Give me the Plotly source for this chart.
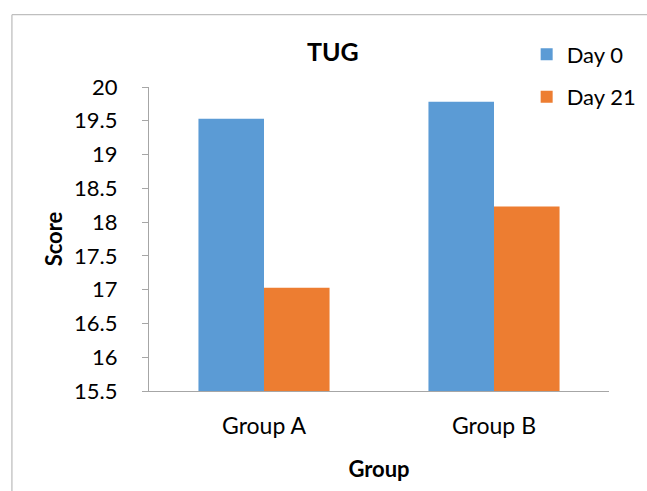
import plotly.graph_objects as go

# Timed Up and Go (TUG) scores per group, before and after the programme
groups = ["Group A", "Group B"]
day0_scores = [19.53, 19.78]
day21_scores = [17.03, 18.23]

y_ticks = [15.5, 16, 16.5, 17, 17.5, 18, 18.5, 19, 19.5, 20]
y_tick_labels = ["15.5", "16", "16.5", "17", "17.5", "18", "18.5", "19", "19.5", "20"]

FONT = "Lato, 'Open Sans', sans-serif"
BLUE = "#5B9BD5"
ORANGE = "#ED7D31"
AXIS_GREY = "#A6A6A6"
BORDER_GREY = "#BFBFBF"

fig = go.Figure()
fig.add_trace(go.Bar(name="Day 0", x=groups, y=day0_scores,
                     marker=dict(color=BLUE, line=dict(width=0)),
                     legendgroup="d0"))
fig.add_trace(go.Bar(name="Day 21", x=groups, y=day21_scores,
                     marker=dict(color=ORANGE, line=dict(width=0)),
                     legendgroup="d21"))

fig.update_layout(
    width=647, height=491,
    margin=dict(l=149, r=38, t=87, b=100, autoexpand=False),
    paper_bgcolor="white", plot_bgcolor="white",
    font=dict(family=FONT, size=22, color="#000000"),
    barmode="group", bargap=0.43, bargroupgap=0,
    showlegend=True,
    legend=dict(xref="container", yref="container",
                x=0.814, xanchor="left", y=0.932, yanchor="top",
                traceorder="grouped", tracegroupgap=11,
                font=dict(size=22), bgcolor="rgba(0,0,0,0)",
                itemwidth=30),
)

fig.update_xaxes(
    showline=True, linecolor=AXIS_GREY, linewidth=1.3,
    ticks="", showgrid=False, zeroline=False,
    tickfont=dict(size=23),
    ticklabelstandoff=14,
    title=dict(text="<b>Group</b>", font=dict(size=22), standoff=23),
)
fig.update_yaxes(
    range=[15.5, 20], tickvals=y_ticks, ticktext=y_tick_labels,
    showline=True, linecolor=AXIS_GREY, linewidth=1.3,
    ticks="outside", ticklen=6, tickcolor=AXIS_GREY, tickwidth=1.3,
    showgrid=False, zeroline=False,
    ticklabelstandoff=20,
    title=dict(text="<b>Score</b>", font=dict(size=22), standoff=5),
)

# Chart title
fig.add_annotation(text="<b>TUG</b>", xref="paper", yref="paper",
                   x=0.40, y=1.118, xanchor="center", yanchor="middle",
                   showarrow=False, font=dict(size=25, family=FONT))

# Chart-area frame (top and left edges)
fig.add_shape(type="line", xref="paper", yref="paper",
              x0=-0.298, y0=1.238, x1=1.2, y1=1.238,
              line=dict(color=BORDER_GREY, width=1.3))
fig.add_shape(type="line", xref="paper", yref="paper",
              x0=-0.298, y0=1.238, x1=-0.298, y1=-0.4,
              line=dict(color=BORDER_GREY, width=1.3))

fig.write_html("out.html")
